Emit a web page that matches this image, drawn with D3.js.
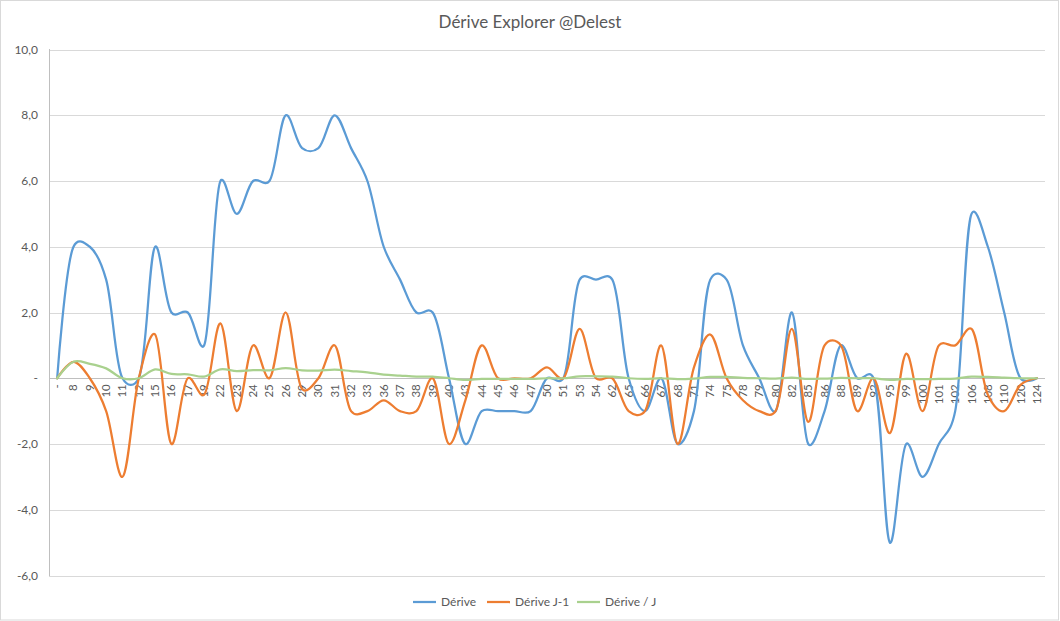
<!DOCTYPE html>
<html>
<head>
  <meta charset="UTF-8">
  <style>
    body { margin: 0; background: #fff; }
    text { font-family: Lato, "Open Sans", sans-serif; fill: #595959; }
  </style>
</head>
<body>
    <svg id="chart" width="1060" height="621"></svg>
    <script src="https://d3js.org/d3.v7.min.js"></script>

    <script>
        // categories (jour)
        var jours = ["-","8","9","10","11","12","15","16","17","19","22","23","24","25","26","29","30","31","32","33",
            "36","37","38","39","40","43","44","45","46","47","50","51","53","54","62","65","66","67","68","71",
            "74","75","78","79","80","82","85","86","88","89","92","95","99","100","101","102","106","108","110","120","124"];

        var derive = [0,4,4,3,0,0,4,2,2,1,6,5,6,6,8,7,7,8,7,6,
            4,3,2,2,0,-2,-1,-1,-1,-1,0,0,3,3,3,0,-1,0,-2,-1,
            3,3,1,0,-1,2,-2,-1,1,0,0,-5,-2,-3,-2,-1,5,4,2,0,0];

        var deriveJ1 = [0,0.5,0,-1,-3,0,1.33,-2,0,-0.5,1.67,-1,1,0,2,-0.33,0,1,-1,-1,
            -0.67,-1,-1,0,-2,-0.67,1,0,0,0,0.33,0,1.5,0,0,-1,-1,1,-2,0.33,
            1.33,0,-0.67,-1,-1,1.5,-1.33,1,1,-1,0,-1.67,0.75,-1,1,1,1.5,-0.5,-1,-0.2,0];

        var deriveParJ = [0,0.5,0.44,0.3,0,0,0.27,0.13,0.12,0.05,0.27,0.22,0.25,0.24,0.31,0.24,0.23,0.26,0.22,0.18,
            0.11,0.08,0.05,0.05,0,-0.05,-0.02,-0.02,-0.02,-0.02,0,0,0.06,0.06,0.05,0,-0.02,0,-0.03,-0.01,
            0.04,0.04,0.01,0,-0.01,0.02,-0.02,-0.01,0.01,0,0,-0.05,-0.02,-0.03,-0.02,-0.01,0.05,0.04,0.02,0,0];

        var yTicks = [-6,-4,-2,0,2,4,6,8,10];

        var series = [
            {name: "Dérive", values: derive, color: "#5B9BD5"},
            {name: "Dérive J-1", values: deriveJ1, color: "#ED7D31"},
            {name: "Dérive / J", values: deriveParJ, color: "#A9D18E"}
        ];

        var svg = d3.select("#chart");

        // outer border of the chart
        svg.append("rect")
            .attr("x", 0.5).attr("y", 0.5)
            .attr("width", 1058).attr("height", 619.5)
            .attr("fill", "none").attr("stroke", "#d9d9d9");

        var x = d3.scalePoint().domain(jours).range([49, 1045]).padding(0.5);
        var y = d3.scaleLinear().domain([-6, 10]).range([575.5, 49.5]);

        svg.append("text")
            .attr("x", 530).attr("y", 28)
            .attr("text-anchor", "middle")
            .style("font-size", "17px")
            .text("Dérive Explorer @Delest");

        // gridlines
        svg.append("g").selectAll("line")
            .data(yTicks.filter(function(d){ return d !== 0; }))
            .enter().append("line")
            .attr("x1", 49).attr("x2", 1045)
            .attr("y1", function(d){ return Math.round(y(d)) + 0.5; })
            .attr("y2", function(d){ return Math.round(y(d)) + 0.5; })
            .attr("stroke", "#d9d9d9");

        // y labels
        function fmt(d){
            if (d === 0) return "-";
            return d3.format(".1f")(d).replace(".", ",").replace("−", "-");
        }
        svg.append("g").selectAll("text")
            .data(yTicks)
            .enter().append("text")
            .attr("x", 38)
            .attr("y", function(d){ return y(d) + 4; })
            .attr("text-anchor", "end")
            .style("font-size", "12px")
            .text(fmt);

        // y axis line + zero line
        svg.append("line")
            .attr("x1", 49.5).attr("x2", 49.5)
            .attr("y1", 49).attr("y2", 576)
            .attr("stroke", "#bfbfbf");
        svg.append("line")
            .attr("x1", 49).attr("x2", 1045)
            .attr("y1", Math.round(y(0)) + 0.5).attr("y2", Math.round(y(0)) + 0.5)
            .attr("stroke", "#bfbfbf");

        // x labels, rotated
        svg.append("g").selectAll("text")
            .data(jours)
            .enter().append("text")
            .attr("transform", function(d){ return "translate(" + (x(d) + 4) + "," + (y(0) + 6) + ") rotate(-90)"; })
            .attr("text-anchor", "end")
            .style("font-size", "11.5px")
            .text(function(d){ return d; });

        // smoothing between plain catmull-rom and centripetal, closer to excel
        var line = d3.line()
            .x(function(d, i){ return x(jours[i]); })
            .y(function(d){ return y(d); })
            .curve(d3.curveCatmullRom.alpha(0.25));

        svg.append("g").selectAll("path")
            .data(series)
            .enter().append("path")
            .attr("d", function(s){ return line(s.values); })
            .attr("fill", "none")
            .attr("stroke", function(s){ return s.color; })
            .attr("stroke-width", 2.25)
            .attr("stroke-linejoin", "round")
            .attr("stroke-linecap", "round");

        // legend
        var legendX = [413, 487, 577];
        var leg = svg.append("g").selectAll("g")
            .data(series)
            .enter().append("g")
            .attr("transform", function(s, i){ return "translate(" + legendX[i] + ",602)"; });
        leg.append("line")
            .attr("x1", 0).attr("x2", 23)
            .attr("stroke", function(s){ return s.color; })
            .attr("stroke-width", 2.25);
        leg.append("text")
            .attr("x", 28).attr("y", 4)
            .style("font-size", "12px")
            .text(function(s){ return s.name; });
    </script>

</body>
</html>
